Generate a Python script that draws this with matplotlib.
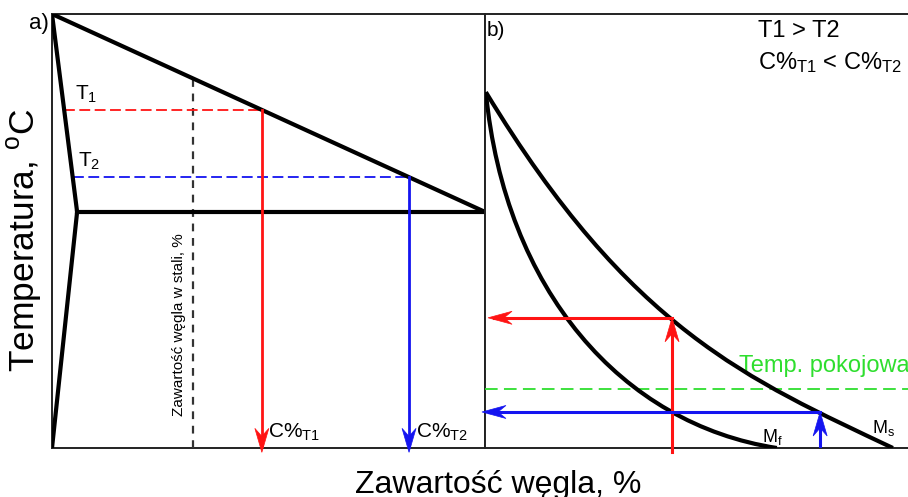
import matplotlib
matplotlib.use("Agg")
import matplotlib.pyplot as plt
from matplotlib.patches import Polygon, PathPatch
from matplotlib.path import Path
from matplotlib.transforms import Affine2D, ScaledTranslation

plt.rcParams["font.family"] = ["Liberation Sans", "DejaVu Sans"]
plt.rcParams["mathtext.default"] = "regular"

# ---- panel a: simplified Fe-C diagram (carbon fraction, relative temperature)
liquidus_x = [0.0, 1.0]
liquidus_y = [1.0, 0.544]
solidus_x = [0.0, 0.058, 0.0]
solidus_y = [1.0, 0.544, 0.0]
eutectic_y = 0.544
steel_c = 0.326            # carbon content of the steel
T1 = 0.779
T2 = 0.624

# ---- panel b: martensite start / finish curves (cubic Bezier control points)
ms_x = [0.002, 0.335, 0.610, 0.942]
ms_y = [0.820, 0.272, 0.157, 0.000]
mf_x = [0.002, 0.046, 0.316, 0.674]
mf_y = [0.820, 0.364, 0.055, 0.000]
room_temp = 0.136
c_t1_b, ms_t1 = 0.432, 0.300
c_t2_b, ms_t2 = 0.774, 0.083

RED = "#ff1414"
BLUE = "#1414f0"
GREEN = "#2ede2e"
FRAME = "#222222"


def liquidus_c(t):
    """Carbon content on the liquidus line at temperature t."""
    (x0, x1), (y0, y1) = liquidus_x, liquidus_y
    return x0 + (t - y0) * (x1 - x0) / (y1 - y0)


def solidus_c(t):
    """Carbon content on the upper solidus branch at temperature t."""
    x0, x1 = solidus_x[0], solidus_x[1]
    y0, y1 = solidus_y[0], solidus_y[1]
    return x0 + (t - y0) * (x1 - x0) / (y1 - y0)


def arrowhead(ax, x, y, angle, color, length=24, width=14, notch=8):
    """Notched arrow head with its tip at (x, y); angle in degrees."""
    verts = [(0, 0), (-length, width / 2), (-length + notch, 0),
             (-length, -width / 2)]
    tr = (Affine2D().rotate_deg(angle)
          + ScaledTranslation(x, y, ax.transData))
    ax.add_patch(Polygon(verts, closed=True, facecolor=color,
                         edgecolor=color, lw=0.5, transform=tr,
                         clip_on=False, zorder=5))


def bezier_curve(ax, xs, ys, **kw):
    path = Path(list(zip(xs, ys)),
                [Path.MOVETO, Path.CURVE4, Path.CURVE4, Path.CURVE4])
    ax.add_patch(PathPatch(path, facecolor="none", **kw))


W, H = 908, 497
fig = plt.figure(figsize=(W / 100, H / 100), dpi=100)

ax_a = fig.add_axes([52 / W, 49 / H, 433 / W, 434 / H])
ax_b = fig.add_axes([485 / W, 49 / H, 423 / W, 434 / H])

for ax in (ax_a, ax_b):
    ax.set_ylim(0, 1)
    ax.set_xticks([])
    ax.set_yticks([])
    for s in ax.spines.values():
        s.set_linewidth(1.4)
        s.set_color(FRAME)
ax_a.set_xlim(0, 1)
ax_b.set_xlim(0, 423 / 433)
ax_b.spines["right"].set_visible(False)

THICK = 3.0

# panel a
ax_a.plot(liquidus_x, liquidus_y, color="black", lw=THICK,
          solid_capstyle="round", zorder=4)
ax_a.plot(solidus_x, solidus_y, color="black", lw=THICK,
          solid_joinstyle="miter", zorder=4)
ax_a.plot([solidus_x[1], 1.0], [eutectic_y, eutectic_y], color="black",
          lw=THICK, zorder=4)

ax_a.plot([steel_c, steel_c], [0, 1 - (1 - liquidus_y[1]) * steel_c],
          color="#333333", lw=1.6, ls=(0, (3.5, 3)), zorder=3)

c1 = liquidus_c(T1)
c2 = liquidus_c(T2)
ax_a.plot([solidus_c(T1), c1], [T1, T1], color=RED, lw=1.3,
          ls=(0, (6, 2.5)), zorder=3)
ax_a.plot([solidus_c(T2), c2], [T2, T2], color=BLUE, lw=1.3,
          ls=(0, (6, 2.5)), zorder=3)
ax_a.plot([c1, c1], [T1, 0.0], color=RED, lw=2.0, zorder=4)
ax_a.plot([c2, c2], [T2, 0.0], color=BLUE, lw=2.0, zorder=4)
arrowhead(ax_a, c1, -0.01, -90, RED)
arrowhead(ax_a, c2, -0.01, -90, BLUE)

ax_a.text(23 / 433, T1 + 0.012, "T$_1$", fontsize=15, ha="left",
          va="bottom")
ax_a.text(26 / 433, T2 + 0.012, "T$_2$", fontsize=15, ha="left",
          va="bottom")
ax_a.text(c1 + 0.014, 0.012, "C%$_{T1}$", fontsize=15, ha="left",
          va="bottom")
ax_a.text(c2 + 0.016, 0.012, "C%$_{T2}$", fontsize=15, ha="left",
          va="bottom")
ax_a.text(steel_c - 0.033, 0.285, "Zawartość węgla w stali, %",
          fontsize=11, rotation=90, ha="center", va="center")

# panel b
bezier_curve(ax_b, ms_x, ms_y, edgecolor="black", lw=THICK, zorder=4)
bezier_curve(ax_b, mf_x, mf_y, edgecolor="black", lw=THICK, zorder=4)
ax_b.plot([0, 423 / 433], [room_temp, room_temp], color=GREEN, lw=1.3,
          ls=(0, (7, 3.5)), zorder=3, clip_on=False)

ax_b.plot([c_t1_b, c_t1_b], [-0.01, ms_t1 - 0.02], color=RED, lw=2.2,
          zorder=4, clip_on=False)
arrowhead(ax_b, c_t1_b, ms_t1, 90, RED)
ax_b.plot([c_t1_b, 0.02], [ms_t1, ms_t1], color=RED, lw=2.2, zorder=4)
arrowhead(ax_b, 0.007, ms_t1, 180, RED, width=13)

ax_b.plot([c_t2_b, c_t2_b], [0, ms_t2 - 0.02], color=BLUE, lw=2.2,
          zorder=4)
arrowhead(ax_b, c_t2_b, ms_t2, 90, BLUE)
ax_b.plot([c_t2_b, 0.01], [ms_t2, ms_t2], color=BLUE, lw=2.2, zorder=4,
          clip_on=False)
arrowhead(ax_b, -0.007, ms_t2, 180, BLUE, width=13)

ax_b.text(0.005, 0.985, "b)", fontsize=15, ha="left", va="top")
ax_b.text(254 / 433, 0.174, "Temp. pokojowa", fontsize=17, color=GREEN,
          ha="left", va="baseline", clip_on=False)
ax_b.text(277 / 433, 0.014, "M$_f$", fontsize=13, ha="left",
          va="baseline")
ax_b.text(387 / 433, 0.035, "M$_s$", fontsize=13, ha="left",
          va="baseline")
ax_b.text(273 / 433, (448 - 37) / 434, "T1 > T2", fontsize=17,
          ha="left", va="baseline")
ax_b.text(273 / 433, (448 - 69) / 434, "C%$_{T1}$ < C%$_{T2}$",
          fontsize=17, ha="left", va="baseline")

# figure-level labels
fig.text(49 / W, 1 - 23 / H, "a)", fontsize=16, ha="right", va="center")
fig.text(25 / W, 1 - 240 / H, "Temperatura, $^{o}$C", fontsize=25.5,
         rotation=90, ha="center", va="center")
fig.text(498 / W, 1 - 493 / H, "Zawartość węgla, %", fontsize=23,
         ha="center", va="baseline")

fig.savefig("out.png", dpi=100)
